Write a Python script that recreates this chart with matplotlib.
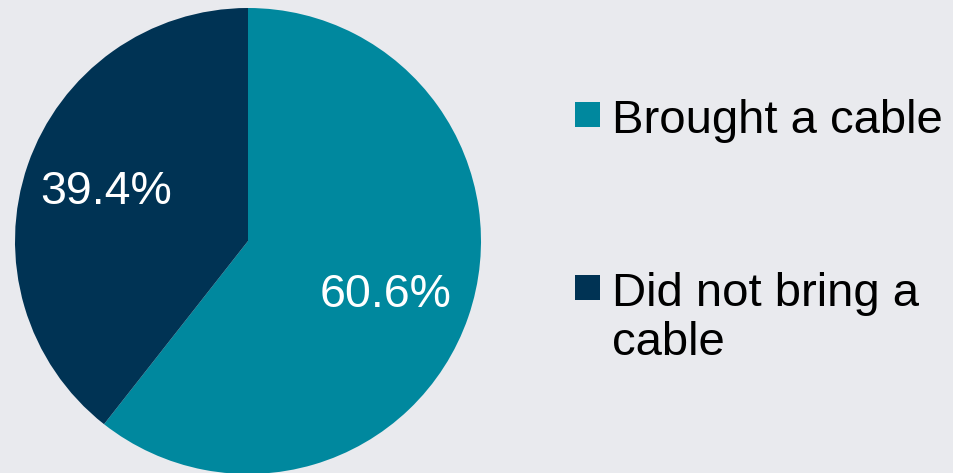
import matplotlib.pyplot as plt
from matplotlib.patches import Rectangle

labels = ['Brought a cable', 'Did not bring a\ncable']
shares = [60.6, 39.4]
colors = ['#00889E', '#003354']
bg = '#E9EAEE'

plt.rcParams['font.family'] = ['Liberation Sans', 'DejaVu Sans']

W, H = 954, 473
fig = plt.figure(figsize=(W / 100, H / 100), dpi=100, facecolor=bg)

# pie centre and radius in pixels
cx, cy, r = 248, 241, 233
ax = fig.add_axes([(cx - r) / W, (H - cy - r) / H, 2 * r / W, 2 * r / H])
ax.set_facecolor(bg)

wedges, texts, autotexts = ax.pie(
    shares, colors=colors, startangle=90, counterclock=False,
    autopct='%.1f%%', pctdistance=0.64,
    wedgeprops=dict(linewidth=0),
    textprops=dict(color='white', fontsize=33.5))
autotexts[0].set_position((0.59, -0.23))
autotexts[1].set_position((-0.61, 0.21))
ax.set_xlim(-1, 1)
ax.set_ylim(-1, 1)
ax.set_aspect('auto')
ax.axis('off')

# legend drawn by hand: square swatch + label (va='top' keeps first line fixed)
entries = [(102, 99), (275, 272)]
for (sq_top, txt_top), lab, col in zip(entries, labels, colors):
    fig.add_artist(Rectangle((575 / W, (H - sq_top - 25) / H), 25 / W, 25 / H,
                             transform=fig.transFigure, facecolor=col,
                             edgecolor='none'))
    fig.text(612 / W, (H - txt_top) / H, lab, fontsize=34, color='black',
             ha='left', va='top', linespacing=1.15)

fig.savefig('out.png', dpi=100, facecolor=bg)
